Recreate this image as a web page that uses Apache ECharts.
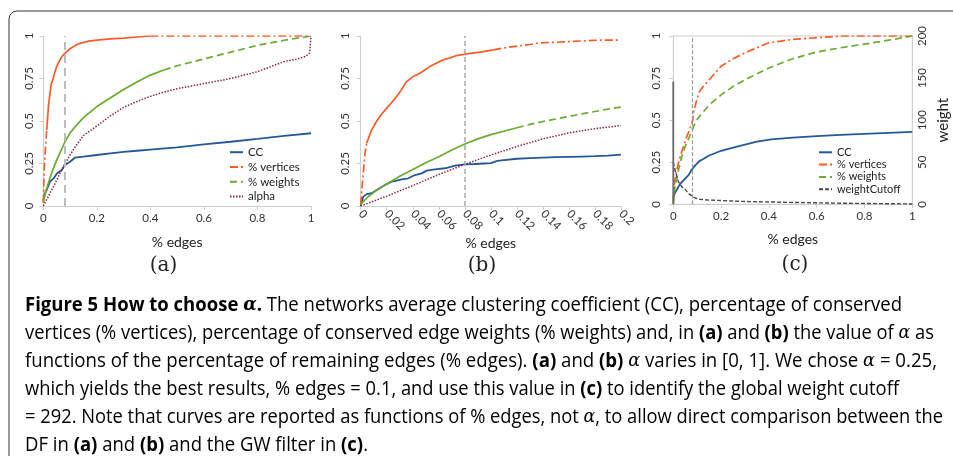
<!DOCTYPE html>
<html><head><meta charset="utf-8">
<script src="https://cdn.jsdelivr.net/npm/echarts@6/dist/echarts.min.js"></script>
<style>html,body{margin:0;padding:0;background:#fff}#c{width:953px;height:456px}</style>
</head><body><div id="c"></div>
<script>
// ---------- DATA ----------
// panel (a): x = % edges, y = value
const aCC = [[0,0.03],[0.005,0.07],[0.0127,0.094],[0.025,0.143],[0.04,0.165],[0.05,0.19],[0.069,0.212],[0.081,0.241],[0.1,0.26],[0.118,0.284],[0.15,0.29],[0.2,0.3],[0.25,0.31],[0.3,0.318],[0.35,0.325],[0.4,0.332],[0.5,0.345],[0.6,0.362],[0.7,0.378],[0.8,0.395],[0.9,0.413],[1,0.428]];
const aVert = [[0,0.02],[0.003,0.2],[0.006,0.29],[0.0127,0.447],[0.02,0.6],[0.03,0.72],[0.035,0.74],[0.04,0.77],[0.05,0.82],[0.062,0.859],[0.07,0.88],[0.081,0.898],[0.1,0.925],[0.12,0.945],[0.137,0.957],[0.17,0.97],[0.2,0.976],[0.25,0.983],[0.3,0.988],[0.35,0.994],[0.4,1],[0.5,1],[0.6,1],[0.7,1],[0.8,1],[0.9,1],[1,1]];
const aWt = [[0,0.02],[0.01,0.09],[0.02,0.14],[0.03,0.19],[0.04,0.23],[0.05,0.27],[0.06,0.305],[0.081,0.378],[0.1,0.43],[0.12,0.468],[0.15,0.52],[0.2,0.585],[0.25,0.635],[0.3,0.685],[0.35,0.73],[0.4,0.77],[0.45,0.8],[0.5,0.825],[0.6,0.865],[0.7,0.905],[0.8,0.945],[0.9,0.975],[1,1]];
const aAlpha = [[0,0],[0.02,0.06],[0.04,0.12],[0.06,0.185],[0.08,0.245],[0.1,0.3],[0.12,0.35],[0.15,0.415],[0.2,0.47],[0.25,0.53],[0.3,0.58],[0.35,0.615],[0.4,0.645],[0.45,0.67],[0.5,0.69],[0.6,0.72],[0.7,0.75],[0.8,0.79],[0.85,0.82],[0.9,0.85],[0.95,0.865],[0.98,0.88],[0.995,0.9],[1,1]];
// panel (b)
const bCC = [[0,0],[0.002,0.055],[0.0046,0.07],[0.0084,0.075],[0.0123,0.094],[0.0187,0.124],[0.0238,0.143],[0.0277,0.149],[0.0315,0.157],[0.0366,0.163],[0.0417,0.182],[0.0469,0.192],[0.0507,0.208],[0.057,0.216],[0.0648,0.222],[0.0725,0.237],[0.0801,0.245],[0.0878,0.247],[0.095,0.25],[0.1,0.252],[0.105,0.265],[0.11,0.27],[0.12,0.278],[0.13,0.282],[0.14,0.285],[0.15,0.287],[0.16,0.289],[0.17,0.291],[0.18,0.293],[0.19,0.296],[0.2,0.302]];
const bVert = [[0,0.01],[0.0015,0.15],[0.0033,0.31],[0.0046,0.37],[0.008,0.44],[0.0123,0.5],[0.016,0.54],[0.02,0.576],[0.024,0.61],[0.0277,0.645],[0.031,0.68],[0.035,0.73],[0.04,0.76],[0.0456,0.781],[0.053,0.82],[0.058,0.84],[0.0635,0.86],[0.068,0.87],[0.0737,0.885],[0.0814,0.895],[0.092,0.905],[0.102,0.918],[0.11,0.93],[0.12,0.94],[0.13,0.95],[0.138,0.96],[0.15,0.963],[0.161,0.967],[0.17,0.971],[0.181,0.975],[0.19,0.976],[0.2,0.976]];
const bWt = [[0,0.01],[0.005,0.05],[0.01,0.08],[0.02,0.13],[0.03,0.175],[0.04,0.215],[0.05,0.255],[0.06,0.29],[0.07,0.33],[0.08,0.365],[0.09,0.395],[0.1,0.42],[0.11,0.44],[0.12,0.46],[0.13,0.48],[0.14,0.497],[0.15,0.512],[0.16,0.527],[0.17,0.542],[0.18,0.556],[0.19,0.57],[0.2,0.582]];
const bAlpha = [[0,0],[0.02,0.058],[0.04,0.12],[0.06,0.185],[0.08,0.245],[0.1,0.3],[0.12,0.35],[0.14,0.395],[0.16,0.43],[0.18,0.455],[0.2,0.473]];
// panel (c)
const cCC = [[0,0.04],[0.005,0.06],[0.014,0.085],[0.028,0.12],[0.049,0.152],[0.063,0.172],[0.077,0.205],[0.091,0.23],[0.11,0.258],[0.12,0.265],[0.15,0.29],[0.2,0.318],[0.25,0.337],[0.3,0.355],[0.35,0.372],[0.41,0.386],[0.5,0.396],[0.6,0.405],[0.7,0.412],[0.8,0.418],[0.9,0.424],[1,0.43]];
const cVert = [[0,0.02],[0.003,0.1],[0.007,0.145],[0.014,0.2],[0.028,0.28],[0.042,0.34],[0.056,0.4],[0.07,0.45],[0.081,0.5],[0.085,0.55],[0.098,0.62],[0.11,0.67],[0.125,0.7],[0.15,0.74],[0.2,0.82],[0.25,0.865],[0.3,0.9],[0.35,0.93],[0.4,0.96],[0.45,0.97],[0.5,0.98],[0.6,0.99],[0.7,1],[0.8,1],[0.9,1],[1,1]];
const cWt = [[0,0],[0.007,0.105],[0.021,0.2],[0.035,0.28],[0.049,0.34],[0.07,0.41],[0.084,0.46],[0.1,0.505],[0.12,0.54],[0.15,0.59],[0.2,0.65],[0.25,0.7],[0.3,0.74],[0.4,0.81],[0.5,0.865],[0.6,0.905],[0.7,0.93],[0.8,0.952],[0.9,0.975],[1,1]];
const cCut = [[0,50],[0.007,41],[0.021,27],[0.035,21],[0.049,18],[0.063,13],[0.077,10],[0.091,7.5],[0.11,6],[0.15,5],[0.2,4.5],[0.3,3.3],[0.4,2.8],[0.5,2.2],[0.6,1.8],[0.7,1.3],[0.8,1],[0.9,0.7],[1,0.4]];
const cCutSpike = [[0,0],[0,146]];
const chosenEdgesAB = 0.082;
const chosenEdgesC = 0.084;
const legendA = ['CC', '% vertices', '% weights', 'alpha'];
const legendC = ['CC', '% vertices', '% weights', 'weightCutoff'];
const panelLabels = ['(a)', '(b)', '(c)'];
const captionLines = [
  [['b','Figure 5 How to choose '],['bi','α'],['b','.'],['n',' The networks average clustering coefficient (CC), percentage of conserved']],
  [['n','vertices (% vertices), percentage of conserved edge weights (% weights) and, in '],['b','(a)'],['n',' and '],['b','(b)'],['n',' the value of '],['i','α'],['n',' as']],
  [['n','functions of the percentage of remaining edges (% edges). '],['b','(a)'],['n',' and '],['b','(b)'],['n',' '],['i','α'],['n',' varies in [0, 1]. We chose '],['i','α'],['n',' = 0.25,']],
  [['n','which yields the best results, % edges = 0.1, and use this value in '],['b','(c)'],['n',' to identify the global weight cutoff']],
  [['n','= 292. Note that curves are reported as functions of % edges, not '],['i','α'],['n',', to allow direct comparison between the']],
  [['n','DF in '],['b','(a)'],['n',' and '],['b','(b)'],['n',' and the GW filter in '],['b','(c)'],['n','.']]
];

// ---------- STYLE ----------
const COL = {cc:'#25589a', vert:'#ff5a26', wt:'#6cab2f', alpha:'#8c2446', cut:'#4a4a4a'};
const LS = {
  cc: {color:COL.cc, width:1.8, type:'solid'},
  vert: {color:COL.vert, width:1.7, type:[8,3,2,3]},
  vertS: {color:COL.vert, width:1.7, type:'solid'},
  wt: {color:COL.wt, width:1.7, type:[7,4]},
  wtS: {color:COL.wt, width:1.7, type:'solid'},
  alpha: {color:COL.alpha, width:1.5, type:[1.5,1.5]},
  cut: {color:COL.cut, width:1.4, type:[4,2]}
};
const tickFont = 'Lato';
const AX = '#cfcfcf';

// split a curve into a solid (dense) middle part and a patterned remainder
function split(data, lo, hi) {
  let i0 = 0; data.forEach((p, i) => { if (p[0] <= lo) i0 = i; });
  let i1 = data.length - 1; for (let i = data.length - 1; i >= 0; i--) if (data[i][0] >= hi) i1 = i;
  const solid = data.slice(i0, i1 + 1);
  const pat = data.slice(0, i0 + 1).concat([['-','-']], data.slice(i1));
  return {solid, pat};
}
function line(name, data, xi, yi, ls, extra) {
  return Object.assign({
    type:'line', name, data, xAxisIndex:xi, yAxisIndex:yi,
    symbol:'none', showSymbol:false, lineStyle:ls, itemStyle:{color:ls.color},
    connectNulls:false, animation:false, silent:true, z:3
  }, extra || {});
}
function refLine(x, color, width, type) {
  return {markLine:{symbol:'none', silent:true, animation:false, label:{show:false},
    lineStyle:{color, width, type}, data:[{xAxis:x}]}};
}

const grids = [
  {left:43.3, top:36, width:267.7, height:170},
  {left:360.7, top:36, width:260.3, height:170},
  {left:673.3, top:36, width:239, height:168.3, show:true, borderColor:AX, borderWidth:1}
];
function xAxis(gi, max, interval, rotate, nameGap) {
  return {type:'value', gridIndex:gi, min:0, max, interval,
    name:'% edges', nameLocation:'middle', nameGap,
    nameTextStyle:{fontFamily:tickFont, fontSize:14, color:'#222'},
    axisLine:{show:true, lineStyle:{color:AX}}, axisTick:{show:true, length:4, lineStyle:{color:AX}},
    splitLine:{show:false},
    axisLabel:{fontFamily:tickFont, fontSize:11.5, color:'#333', margin:6, rotate}};
}
function yAxis(gi, margin) {
  return {type:'value', gridIndex:gi, min:0, max:1, interval:0.25,
    axisLine:{show:true, lineStyle:{color:AX}}, axisTick:{show:true, length:4, lineStyle:{color:AX}},
    splitLine:{show:false},
    axisLabel:{fontFamily:tickFont, fontSize:11.5, color:'#333', margin, rotate:90}};
}

const aV = split(aVert, 0.0127, 0.4), aW = split(aWt, 0, 0.45);
const bV = split(bVert, 0.0046, 0.102), bW = split(bWt, 0, 0.12);

const series = [
  line('CC', aCC, 0, 0, LS.cc, refLine(chosenEdgesAB, '#bdbdbd', 2, [8,5])),
  line('% vertices', aV.pat, 0, 0, LS.vert),
  line('aVs', aV.solid, 0, 0, LS.vertS),
  line('% weights', aW.pat, 0, 0, LS.wt),
  line('aWs', aW.solid, 0, 0, LS.wtS),
  line('alpha', aAlpha, 0, 0, LS.alpha),

  line('bCC', bCC, 1, 1, LS.cc, refLine(chosenEdgesAB, '#a8a8a8', 1.5, [5,3])),
  line('bV', bV.pat, 1, 1, LS.vert),
  line('bVs', bV.solid, 1, 1, LS.vertS),
  line('bW', bW.pat, 1, 1, LS.wt),
  line('bWs', bW.solid, 1, 1, LS.wtS),
  line('bA', bAlpha, 1, 1, LS.alpha),

  line('CC', cCC, 2, 2, LS.cc, refLine(chosenEdgesC, '#9a9a9a', 1.2, [4,2])),
  line('% vertices', cVert, 2, 2, LS.vert),
  line('% weights', cWt, 2, 2, LS.wt),
  line('weightCutoff', cCut, 2, 3, LS.cut),
  line('spike', cCutSpike, 2, 3, {color:'#6a6a6a', width:1.8, type:'solid'})
];

// ---------- CAPTION ----------
const capFam = 'Open Sans', capSize = 20;
const rich = {
  n:{fontFamily:capFam, fontSize:capSize, fontWeight:400, color:'#1b1b1b'},
  b:{fontFamily:capFam, fontSize:capSize, fontWeight:700, color:'#1b1b1b'},
  i:{fontFamily:'DejaVu Serif', fontSize:capSize-1, fontStyle:'italic', fontWeight:400, color:'#1b1b1b'},
  bi:{fontFamily:'DejaVu Serif', fontSize:capSize-1, fontStyle:'italic', fontWeight:700, color:'#1b1b1b'}
};
const ctx = document.createElement('canvas').getContext('2d');
function measure(segs) {
  let w = 0;
  segs.forEach(([k, t]) => {
    const r = rich[k];
    ctx.font = (r.fontStyle || 'normal') + ' ' + r.fontWeight + ' ' + r.fontSize + 'px "' + r.fontFamily + '"';
    w += ctx.measureText(t).width;
  });
  return w;
}
const capLeft = 25, capTop = 305, capStep = 28;
const capRight = [902, 934, 937, 899, 943, 368];
const graphic = [
  {type:'rect', silent:true, shape:{x:9, y:11, width:1100, height:600, r:[8,0,0,0]},
   style:{fill:'none', stroke:'#333', lineWidth:1}}
];
captionLines.forEach((segs, i) => {
  const sx = (capRight[i] - capLeft) / measure(segs);
  graphic.push({type:'text', silent:true, x:capLeft, y:capTop + i*capStep, scaleX:sx,
    style:{text: segs.map(([k,t]) => '{' + k + '|' + t + '}').join(''), rich, x:0, y:0,
      verticalAlign:'middle', align:'left'}});
});
const labelPos = [[163.5,266],[482,266],[795,265]];
panelLabels.forEach((t, i) => {
  graphic.push({type:'text', silent:true, x:labelPos[i][0], y:labelPos[i][1],
    style:{text:t, fontFamily:'DejaVu Serif', fontSize:20, fill:'#222', align:'center', verticalAlign:'middle'}});
});

const legendBase = {orient:'vertical', selectedMode:false, itemWidth:13, itemHeight:8, padding:0,
  itemStyle:{opacity:0},
  textStyle:{fontFamily:tickFont, fontSize:11.5, lineHeight:11, color:'#222'}};

const option = {
  animation:false,
  grid: grids,
  xAxis: [xAxis(0,1,0.2,0,29), xAxis(1,0.2,0.02,-45,30), xAxis(2,1,0.2,0,28)],
  yAxis: [yAxis(0,8), yAxis(1,9), yAxis(2,11),
    {type:'value', gridIndex:2, min:0, max:200, interval:50, position:'right',
     name:'weight', nameLocation:'middle', nameGap:23, nameRotate:90,
     nameTextStyle:{fontFamily:tickFont, fontSize:15, color:'#222'},
     axisLine:{show:true, lineStyle:{color:AX}}, axisTick:{show:false}, splitLine:{show:false},
     axisLabel:{fontFamily:tickFont, fontSize:11.5, color:'#333', margin:4, rotate:90}}],
  legend: [
    Object.assign({}, legendBase, {data:legendA, left:229, top:146.2, itemGap:2.8}),
    Object.assign({}, legendBase, {data:legendC, left:818, top:146.8, itemGap:1.3,
      textStyle:{fontFamily:tickFont, fontSize:11, lineHeight:11, color:'#222'}})
  ],
  series,
  graphic
};
const chart = echarts.init(document.getElementById('c'), null, {renderer:'canvas'});
chart.setOption(option);
</script></body></html>
